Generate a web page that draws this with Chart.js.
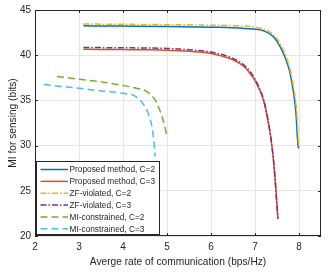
<!DOCTYPE html>
<html>
<head>
<meta charset="utf-8">
<script src="https://cdn.jsdelivr.net/npm/chart.js@4/dist/chart.umd.min.js"></script>
<style>
html,body{margin:0;padding:0;background:#fff;}
#wrap{width:332px;height:272px;}
</style>
</head>
<body>
<div id="wrap"><canvas id="c" width="332" height="272"></canvas></div>
<script>
// ---- Data ----
const seriesNames = ["Proposed method, C=2","Proposed method, C=3","ZF-violated, C=2","ZF-violated, C=3","MI-constrained, C=2","MI-constrained, C=3"];
const xTicks = [2,3,4,5,6,7,8];
const yTicks = [20,25,30,35,40,45];

const propC2X = [3.1,4,5,6,6.5,6.95,7.2,7.42,7.57,7.68,7.78,7.84,7.9,7.93,7.98,8.0];
const propC2Y = [43.25,43.22,43.18,43.1,43.05,42.9,42.7,42.05,40.95,39.8,38.35,36.9,35.0,33.6,29.9,29.7];

const propC3X = [3.1,3.5,4,4.5,5,5.5,5.75,6,6.25,6.5,6.75,6.9,7.0,7.1,7.2,7.3,7.35,7.42,7.47,7.52];
const propC3Y = [40.65,40.64,40.62,40.6,40.56,40.45,40.35,40.2,39.9,39.5,38.75,37.9,37.2,36.2,34.9,32.6,31.2,28.4,25.5,21.9];

const zfC2X = [3.1,4,5,6,6.5,7.0,7.25,7.45,7.6,7.71,7.8,7.86,7.92,7.95,7.99,8.01];
const zfC2Y = [43.45,43.42,43.38,43.32,43.27,43.1,42.8,42.1,41.0,39.8,38.4,36.9,35.0,33.6,30.2,29.8];

const zfC3X = [3.1,4,5,5.5,6,6.5,6.75,7.0,7.2,7.3,7.42,7.52];
const zfC3Y = [40.85,40.82,40.75,40.6,40.35,39.65,38.9,37.35,35.0,32.7,28.4,21.9];

const miC2X = [2.5,3.0,3.5,4.0,4.3,4.55,4.73,4.82,4.9,4.96,5.0];
const miC2Y = [37.65,37.35,37.05,36.65,36.35,35.95,35.05,34.1,33.0,31.9,31.0];

const miC3X = [2.2,2.6,3.0,3.5,4.0,4.3,4.5,4.6,4.65,4.7,4.73];
const miC3Y = [36.75,36.55,36.35,36.05,35.78,35.4,34.3,33.2,32.3,30.5,28.8];

// ---- Styles ----
const colors = ['#0072BD','#D95319','#EDB120','#7E2F8E','#77AC30','#4DBEEE'];
const dashes = [[],[],[6,2,1.5,2],[6,2,1.5,2],[7,4],[7,4]];
const xs = [propC2X,propC3X,zfC2X,zfC3X,miC2X,miC3X];
const ys = [propC2Y,propC3Y,zfC2Y,zfC3Y,miC2Y,miC3Y];

const datasets = seriesNames.map((n,i)=>({
  label:n,
  data: xs[i].map((x,j)=>({x:x,y:ys[i][j]})),
  borderColor: colors[i],
  backgroundColor: colors[i],
  borderWidth: 1.5,
  borderDash: dashes[i],
  pointRadius: 0,
  tension: 0.35,
  cubicInterpolationMode: 'monotone',
  fill: false,
  order: 6-i
}));

const FONT = 'Liberation Sans, Arial, Helvetica, sans-serif';
const TXT = '#262626';

const framePlugin = {
  id:'frame',
  afterDraw(chart){
    const ctx = chart.ctx, a = chart.chartArea;
    const xs_ = chart.scales.x, ys_ = chart.scales.y;
    ctx.save();
    ctx.strokeStyle = TXT;
    ctx.lineWidth = 1;
    ctx.strokeRect(Math.round(a.left)+0.5, Math.round(a.top)+0.5, Math.round(a.right-a.left)-1, Math.round(a.bottom-a.top)-1);
    // inward ticks
    ctx.beginPath();
    xTicks.forEach(t=>{
      const px = Math.round(xs_.getPixelForValue(t))+0.5;
      ctx.moveTo(px,a.bottom); ctx.lineTo(px,a.bottom-3);
      ctx.moveTo(px,a.top); ctx.lineTo(px,a.top+3);
    });
    yTicks.forEach(t=>{
      const py = Math.round(ys_.getPixelForValue(t))+0.5;
      ctx.moveTo(a.left,py); ctx.lineTo(a.left+3,py);
      ctx.moveTo(a.right,py); ctx.lineTo(a.right-3,py);
    });
    ctx.stroke();
    // legend
    const lx=36.5, ly=161.5, lw=123, lh=73;
    ctx.fillStyle='#fff';
    ctx.fillRect(lx,ly,lw,lh);
    ctx.strokeStyle=TXT; ctx.lineWidth=1;
    ctx.strokeRect(lx,ly,lw,lh);
    ctx.font = '8.3px '+FONT;
    ctx.textBaseline='middle';
    chart.data.datasets.forEach((d,i)=>{
      const yy = 169.5 + i*11.85;
      ctx.beginPath();
      ctx.setLineDash(dashes[i]);
      ctx.strokeStyle=colors[i]; ctx.lineWidth=1.5;
      ctx.moveTo(40.5,yy); ctx.lineTo(68,yy); ctx.stroke();
      ctx.setLineDash([]);
      ctx.fillStyle=TXT;
      ctx.fillText(d.label, 69.5, yy+0.5);
    });
    ctx.restore();
  }
};

new Chart(document.getElementById('c'), {
  type:'line',
  data:{datasets},
  options:{
    responsive:false,
    animation:false,
    devicePixelRatio:1,
    layout:{padding:{top:10,right:11,left:0,bottom:0}},
    plugins:{legend:{display:false},tooltip:{enabled:false}},
    scales:{
      x:{
        type:'linear', min:2, max:8.5,
        afterBuildTicks(s){ s.ticks = xTicks.map(v=>({value:v})); },
        afterFit(s){ s.height = 36; },
        grid:{color:'#e6e6e6', lineWidth:1, drawTicks:false},
        border:{display:false},
        ticks:{color:TXT, font:{family:FONT,size:10}, padding:5, maxRotation:0},
        title:{display:true, text:'Averge rate of communication (bps/Hz)', color:TXT, font:{family:FONT,size:10.2}, padding:{top:2,bottom:4}}
      },
      y:{
        type:'linear', min:20, max:45,
        afterBuildTicks(s){ s.ticks = yTicks.map(v=>({value:v})); },
        afterFit(s){ s.width = 35; },
        grid:{color:'#e6e6e6', lineWidth:1, drawTicks:false},
        border:{display:false},
        ticks:{color:TXT, font:{family:FONT,size:10}, padding:4},
        title:{display:true, text:'MI for sensing (bits)', color:TXT, font:{family:FONT,size:10.2}, padding:{top:7,bottom:2}}
      }
    }
  },
  plugins:[framePlugin]
});
</script>
</body>
</html>
